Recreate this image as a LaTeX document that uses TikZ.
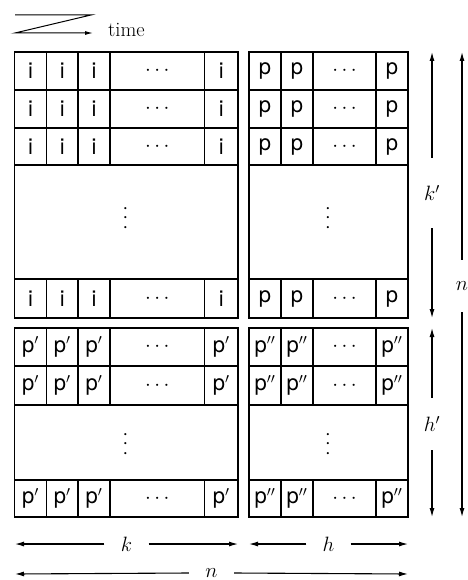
\documentclass[tikz,border=0pt]{standalone}
\usepackage{fontspec}
\setsansfont{TeX Gyre Heros}
\usetikzlibrary{arrows.meta}
\newcommand\mycell[6]{\node[cellbox, minimum width={(#4)-(#2)}, minimum height={(#5)-(#3)}] (#1) at ({((#2)+(#4))/2},{((#3)+(#5))/2}) {#6};}
\begin{document}
\begin{tikzpicture}[x=1pt,y=-1pt,
  cellbox/.style={draw, line width=1.4pt, inner sep=0pt, font=\sffamily\fontsize{22}{22}\selectfont},
  frame/.style={draw, line width=1.4pt, inner sep=0pt},
  arr/.style={line width=1.1pt, -{Latex[length=9pt,width=5pt]}},
  lab/.style={inner sep=0pt, font=\fontsize{22}{22}\selectfont},
  vdotsnode/.style={inner sep=0pt, rotate=90, font=\fontsize{22}{22}\selectfont}]
\useasboundingbox (0,0) rectangle (467,580);

% time symbol
\coordinate (t1) at (15,15);
\coordinate (t2) at (91,15);
\coordinate (t3) at (15,33);
\coordinate (t4) at (93,33);
\draw[line width=1pt, -{Latex[length=8pt,width=4pt]}] (t1) -- (t2) -- (t3) -- (t4);
\node[inner sep=0pt, anchor=base west, font=\fontsize{20.5}{20.5}\selectfont] (time) at (108,37) {time};

% frames
\node[frame, minimum width=223.5, minimum height=266] (TL) at (126.25,185) {};
\node[frame, minimum width=159, minimum height=266] (TR) at (328.5,185) {};
\node[frame, minimum width=223.5, minimum height=189] (BL) at (126.25,422.5) {};
\node[frame, minimum width=159, minimum height=189] (BR) at (328.5,422.5) {};

% top-left cells
\foreach \ya/\yb [count=\r] in {52/90,90/128,128/165,279/318} {
  \foreach \xa/\xb/\t [count=\c] in {14.5/46.5/i,46.5/78/i,78/110/i,110/204.5/$\cdots$,204.5/238/i} {
    \mycell{tl\r\c}{\xa}{\ya}{\xb}{\yb}{\t}
  }
}
% top-right cells
\foreach \ya/\yb [count=\r] in {52/90,90/128,128/165,279/318} {
  \foreach \xa/\xb/\t [count=\c] in {249/281/p,281/313/p,313/376/$\cdots$,376/408/p} {
    \mycell{tr\r\c}{\xa}{\ya}{\xb}{\yb}{\t}
  }
}
% bottom-left cells
\foreach \ya/\yb [count=\r] in {328/366,366/405,480/517} {
  \foreach \xa/\xb/\t [count=\c] in {14.5/46.5/p$'$,46.5/78/p$'$,78/110/p$'$,110/204.5/$\cdots$,204.5/238/p$'$} {
    \mycell{bl\r\c}{\xa}{\ya}{\xb}{\yb}{\t}
  }
}
% bottom-right cells
\foreach \ya/\yb [count=\r] in {328/366,366/405,480/517} {
  \foreach \xa/\xb/\t [count=\c] in {249/281/p$''$,281/313/p$''$,313/376/$\cdots$,376/408/p$''$} {
    \mycell{br\r\c}{\xa}{\ya}{\xb}{\yb}{\t}
  }
}

% vertical dots
\node[vdotsnode] (vtl) at (126,218) {$\cdots$};
\node[vdotsnode] (vtr) at (328.5,218) {$\cdots$};
\node[vdotsnode] (vbl) at (126,444) {$\cdots$};
\node[vdotsnode] (vbr) at (328.5,444) {$\cdots$};

% right dimension arrows
\coordinate (kpT) at (432,52);
\coordinate (kpB) at (432,318);
\node[lab, minimum height=70] (kp) at (432,193) {$k'$};
\draw[arr] (kp.north) -- (kpT);
\draw[arr] (kp.south) -- (kpB);

\coordinate (hpT) at (432,328);
\coordinate (hpB) at (432,517);
\node[lab, minimum height=52] (hp) at (432,424) {$h'$};
\draw[arr] (hp.north) -- (hpT);
\draw[arr] (hp.south) -- (hpB);

\coordinate (nrT) at (462,52);
\coordinate (nrB) at (462,517);
\node[lab, minimum height=52] (nr) at (462,286) {$n$};
\draw[arr] (nr.north) -- (nrT);
\draw[arr] (nr.south) -- (nrB);

% bottom dimension arrows
\coordinate (kL) at (15,544);
\coordinate (kR) at (238,544);
\node[lab, minimum width=44] (k) at (126.5,544) {$k$};
\draw[arr] (k.west) -- (kL);
\draw[arr] (k.east) -- (kR);

\coordinate (hL) at (249,544);
\coordinate (hR) at (408,544);
\node[lab, minimum width=44] (h) at (328.5,544) {$h$};
\draw[arr] (h.west) -- (hL);
\draw[arr] (h.east) -- (hR);

\coordinate (nL) at (15,574);
\coordinate (nR) at (408,574);
\node[lab, minimum width=45] (nb) at (211.5,573) {$n$};
\draw[arr] (nb.west) -- (nL);
\draw[arr] (nb.east) -- (nR);
\end{tikzpicture}
\end{document}
